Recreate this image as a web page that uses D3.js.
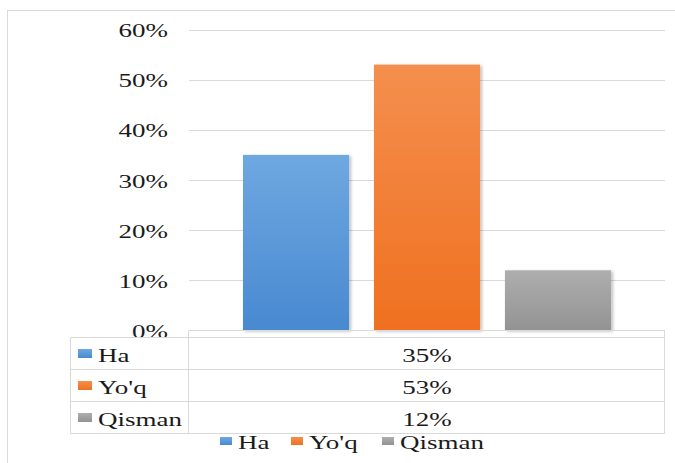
<!DOCTYPE html>
<html>
<head>
<meta charset="utf-8">
<script src="https://cdn.jsdelivr.net/npm/d3@7/dist/d3.min.js"></script>
<style>
  html, body { margin: 0; padding: 0; background: #ffffff; }
  svg { display: block; }
  text { font-family: "Liberation Serif", "Times New Roman", serif; fill: #1a1a1a; }
</style>
</head>
<body>
<svg id="chart" width="675" height="463"></svg>
<script>
// ---- data ----
const seriesNames = ["Ha", "Yo'q", "Qisman"];
const seriesValues = [0.35, 0.53, 0.12];
const seriesLabels = ["35%", "53%", "12%"];
const tickValues = [0, 0.1, 0.2, 0.3, 0.4, 0.5, 0.6];
const tickLabels = ["0%", "10%", "20%", "30%", "40%", "50%", "60%"];
const colorsTop = ["#6fa8e1", "#f48f4e", "#aeaeae"];
const colorsBottom = ["#4889d0", "#ef7020", "#939393"];

const svg = d3.select("#chart");
const W = 675, H = 463;
const plot = { left: 189, right: 665, top: 29.5, bottom: 330.5 };
const SX = 1.5, FS = 18;
const gridColor = "#d9d9d9";

const defs = svg.append("defs");
seriesNames.forEach((s, i) => {
  const g = defs.append("linearGradient").attr("id", "grad" + i)
    .attr("x1", 0).attr("y1", 0).attr("x2", 0).attr("y2", 1);
  g.append("stop").attr("offset", "0%").attr("stop-color", colorsTop[i]);
  g.append("stop").attr("offset", "100%").attr("stop-color", colorsBottom[i]);
});
const f = defs.append("filter").attr("id", "shadow")
  .attr("x", "-10%").attr("y", "-10%").attr("width", "130%").attr("height", "130%");
f.append("feDropShadow").attr("dx", 2).attr("dy", 1).attr("stdDeviation", 1.5)
  .attr("flood-color", "#000").attr("flood-opacity", 0.25);

function stext(sel, x, y, str, anchor) {
  return sel.append("text")
    .attr("transform", `translate(${x},${y}) scale(${SX},1)`)
    .attr("text-anchor", anchor || "start")
    .style("font-size", FS + "px")
    .text(str);
}

// chart border
svg.append("rect").attr("x", 7.5).attr("y", 10.5).attr("width", W).attr("height", H)
  .attr("fill", "none").attr("stroke", gridColor).attr("stroke-width", 1);

const y = d3.scaleLinear().domain([0, 0.6]).range([plot.bottom, plot.top]);
const x = d3.scaleBand().domain(seriesNames).range([plot.left, plot.right])
  .paddingInner(0.19).paddingOuter(0.412);

// gridlines
svg.append("g").selectAll("line").data(tickValues.filter(v => v > 0)).join("line")
  .attr("x1", plot.left).attr("x2", plot.right)
  .attr("y1", d => Math.round(y(d)) + 0.5).attr("y2", d => Math.round(y(d)) + 0.5)
  .attr("stroke", gridColor).attr("stroke-width", 1);

// tick labels
const tg = svg.append("g");
tickValues.forEach((v, i) => stext(tg, 168, y(v) + 7.5, tickLabels[i], "end"));

// bars
svg.append("g").selectAll("rect").data(seriesValues).join("rect")
  .attr("x", (d, i) => x(seriesNames[i]))
  .attr("width", x.bandwidth())
  .attr("y", d => y(d))
  .attr("height", d => y(0) - y(d))
  .attr("fill", (d, i) => `url(#grad${i})`)
  .attr("filter", "url(#shadow)");

// axis baseline
svg.append("line").attr("x1", plot.left).attr("x2", plot.right)
  .attr("y1", 330.5).attr("y2", 330.5).attr("stroke", gridColor);

// data table
const table = { left: 70.5, divider: 188.5, right: 664.5, top: 337, rowH: 32 };
const tbl = svg.append("g");
const rows = seriesNames.map((s, i) => i);
tbl.append("line").attr("x1", table.left).attr("x2", table.right)
  .attr("y1", table.top + 0.5).attr("y2", table.top + 0.5).attr("stroke", gridColor);
rows.forEach(i => {
  const yb = table.top + (i + 1) * table.rowH + 0.5;
  tbl.append("line").attr("x1", table.left).attr("x2", table.right)
    .attr("y1", yb).attr("y2", yb).attr("stroke", gridColor);
});
const tBottom = table.top + seriesNames.length * table.rowH + 0.5;
tbl.append("line").attr("x1", table.left).attr("x2", table.left)
  .attr("y1", table.top + 0.5).attr("y2", tBottom).attr("stroke", gridColor);
tbl.append("line").attr("x1", table.divider).attr("x2", table.divider)
  .attr("y1", 330.5).attr("y2", tBottom).attr("stroke", gridColor);
tbl.append("line").attr("x1", table.right).attr("x2", table.right)
  .attr("y1", 330.5).attr("y2", tBottom).attr("stroke", gridColor);

rows.forEach(i => {
  const cy = table.top + i * table.rowH + table.rowH / 2;
  tbl.append("rect").attr("x", 78).attr("y", cy - 4).attr("width", 14).attr("height", 9)
    .attr("fill", `url(#grad${i})`);
  stext(tbl, 98, cy + 8.5, seriesNames[i], "start");
  stext(tbl, (plot.left + plot.right) / 2, cy + 8.5, seriesLabels[i], "middle");
});

// bottom legend
const legX = [220, 291, 382];
const lg = svg.append("g");
seriesNames.forEach((s, i) => {
  lg.append("rect").attr("x", legX[i]).attr("y", 437).attr("width", 12).attr("height", 8)
    .attr("fill", `url(#grad${i})`);
  stext(lg, legX[i] + 18, 449, s, "start");
});
</script>
</body>
</html>
